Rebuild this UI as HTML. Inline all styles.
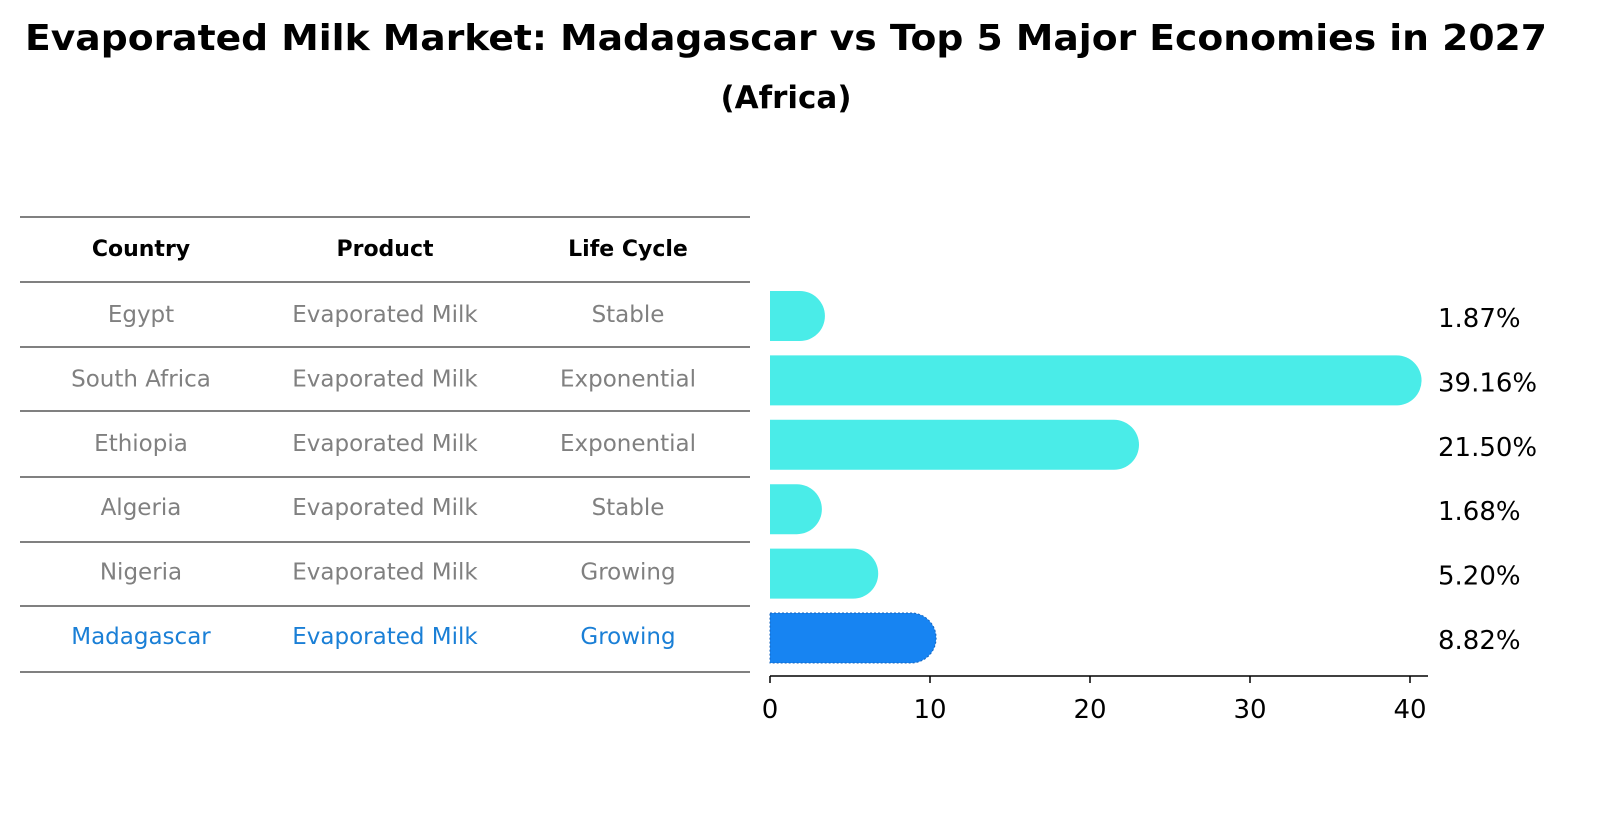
<!DOCTYPE html>
<html><head><meta charset="utf-8"><style>
body{margin:0;background:#fff;font-family:"Liberation Sans","DejaVu Sans",sans-serif;}
svg text{font-family:"DejaVu Sans","Liberation Sans",sans-serif;}
</style></head><body>
<svg id="c" width="1612" height="823" xmlns="http://www.w3.org/2000/svg">
<text x="786" y="50" text-anchor="middle" font-size="36" font-weight="bold" textLength="1522" lengthAdjust="spacingAndGlyphs">Evaporated Milk Market: Madagascar vs Top 5 Major Economies in 2027</text>
<text x="786" y="108" text-anchor="middle" font-size="31" font-weight="bold">(Africa)</text>
<g id="tbl"></g>
<g id="bars"></g>
</svg>
<script>
const countries=["Egypt","South Africa","Ethiopia","Algeria","Nigeria","Madagascar"];
const products=["Evaporated Milk","Evaporated Milk","Evaporated Milk","Evaporated Milk","Evaporated Milk","Evaporated Milk"];
const lifeCycles=["Stable","Exponential","Exponential","Stable","Growing","Growing"];
const shares=[1.87,39.16,21.50,1.68,5.20,8.82];
const tickValues=[0,10,20,30,40];
const NS="http://www.w3.org/2000/svg";
function mk(tag,attrs,parent){const e=document.createElementNS(NS,tag);for(const k in attrs)e.setAttribute(k,attrs[k]);parent.appendChild(e);return e;}
const tbl=document.getElementById('tbl'),bars=document.getElementById('bars');
const x=v=>770+v*16;
const rowY=i=>314+i*64.4;
const lineYs=[217,282,347,411,477,542,606,672];
lineYs.forEach(y=>{const l=mk('line',{x1:20,x2:750,y1:y,y2:y,stroke:'#000','stroke-width':1},tbl);

});
const colX=[141,385,628];
["Country","Product","Life Cycle"].forEach((h,j)=>{const t=mk('text',{x:colX[j],y:256,'text-anchor':'middle','font-size':22,'font-weight':'bold'},tbl);t.textContent=h;

});
countries.forEach((c,i)=>{
  const col=i===countries.length-1?'#1a7fd6':'#808080';
  [c,products[i],lifeCycles[i]].forEach((v,j)=>{const t=mk('text',{x:colX[j],y:rowY(i)+8,'text-anchor':'middle','font-size':23,fill:col},tbl);t.textContent=v;
  
  });
  const hl=i===countries.length-1;
  const xe=x(shares[i]),yc=rowY(i)+2,r=25;
  const p=mk('path',{d:`M770 ${yc-r} H${xe} A${r} ${r} 0 0 1 ${xe} ${yc+r} H770 Z`,fill:hl?'#1784f2':'#4aece8',stroke:hl?'#1565c0':'none','stroke-dasharray':hl?'2 2':'','stroke-width':hl?1:0},bars);
  
  
  const t=mk('text',{x:1438,y:yc+11,'font-size':26},bars);t.textContent=shares[i].toFixed(2)+'%';
  
  
});
const ax=mk('line',{x1:770,x2:1428,y1:676,y2:676,stroke:'#000','stroke-width':1.5},bars);


tickValues.forEach(v=>{const l=mk('line',{x1:x(v),x2:x(v),y1:676,y2:683,stroke:'#000','stroke-width':1.5},bars);


const t=mk('text',{x:x(v),y:718,'text-anchor':'middle','font-size':26},bars);t.textContent=v;

});
</script>
</body></html>
